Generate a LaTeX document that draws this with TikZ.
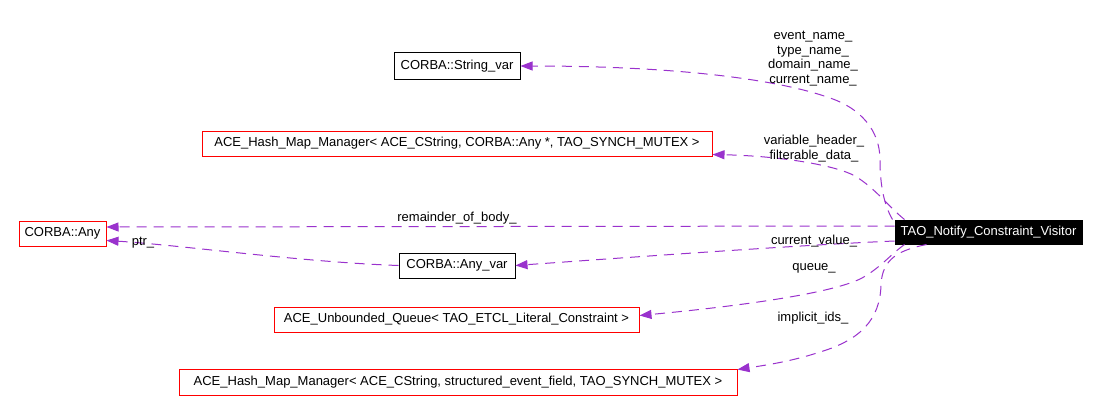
\documentclass[tikz,border=0pt]{standalone}
\usepackage{fontspec}
\setmainfont{Liberation Sans}
\usetikzlibrary{arrows.meta}
\definecolor{edgecol}{HTML}{9A32CD}
\tikzset{
  box/.style={draw=#1, line width=1pt, inner sep=0pt, font=\fontsize{13}{15}\selectfont, fill=white},
  edge/.style={draw=edgecol, line width=1pt, dash pattern=on 10pt off 7pt, -{Triangle[length=12pt,width=9pt]}},
  lbl/.style={inner sep=0pt, align=center, font=\fontsize{13}{14.7}\selectfont}
}
\begin{document}
\begin{tikzpicture}[x=1pt,y=-1pt]
\useasboundingbox (0,0) rectangle (1099,412);
\fill[white] (0,0) rectangle (1099,412);
% nodes
\node[box=black, minimum width=126pt, minimum height=26pt] (sv) at (457,66) {CORBA::String\_var};
\node[box=red, minimum width=510pt, minimum height=25pt] (hma) at (457,143.5) {ACE\_Hash\_Map\_Manager< ACE\_CString, CORBA::Any *, TAO\_SYNCH\_MUTEX >};
\node[box=red, minimum width=87pt, minimum height=25pt] (any) at (62.5,233.5) {CORBA::Any};
\node[box=black, minimum width=116pt, minimum height=25pt] (anyvar) at (457,265.5) {CORBA::Any\_var};
\node[box=red, minimum width=365pt, minimum height=25pt] (queue) at (456.5,319.5) {ACE\_Unbounded\_Queue< TAO\_ETCL\_Literal\_Constraint >};
\node[box=red, minimum width=558pt, minimum height=26pt] (hmb) at (458,382) {ACE\_Hash\_Map\_Manager< ACE\_CString, structured\_event\_field, TAO\_SYNCH\_MUTEX >};
\node[box=black, fill=black, text=white, minimum width=187pt, minimum height=24pt] (tao) at (988.5,232) {TAO\_Notify\_Constraint\_Visitor};
% edges
\draw[edge] ([xshift=-2pt]tao.north west) .. controls (884,205) and (880,185) .. (880,160)
  .. controls (880,130) and (860,108) .. (830,98)
  .. controls (780,80) and (680,66) .. (sv.east);
\draw[edge] ([xshift=10pt]tao.north west) .. controls (890,208) and (875,188) .. (855,176)
  .. controls (835,165) and (780,156) .. ([yshift=-11pt]hma.east);
\draw[edge] ([yshift=6pt]tao.west) -- ([yshift=6.5pt]any.east);
\draw[edge] ([yshift=-9pt]tao.west) .. controls (800,245) and (620,258) .. (anyvar.east);
\draw[edge] (anyvar.west) .. controls (300,262) and (180,245) .. ([yshift=-7pt]any.east);
\draw[edge] ([xshift=10pt]tao.south west) .. controls (890,255) and (880,268) .. (862,278)
  .. controls (830,295) and (720,308) .. ([yshift=4pt]queue.east);
\draw[edge] ([xshift=32pt]tao.south west) .. controls (900,250) and (882,258) .. (881,285)
  .. controls (880,320) and (860,340) .. (820,352)
  .. controls (790,362) and (760,366) .. ([yshift=-1pt]hmb.north east);
% labels
\node[lbl] (l1) at (813,58.5) {event\_name\_\\type\_name\_\\domain\_name\_\\current\_name\_};
\node[lbl] (l2) at (814,148.5) {variable\_header\_\\filterable\_data\_};
\node[lbl] (l3) at (457,218) {remainder\_of\_body\_};
\node[lbl] (l4) at (814,241) {current\_value\_};
\node[lbl] (l5) at (143,243) {ptr\_};
\node[lbl] (l6) at (814,268) {queue\_};
\node[lbl] (l7) at (813,318) {implicit\_ids\_};
\end{tikzpicture}
\end{document}
